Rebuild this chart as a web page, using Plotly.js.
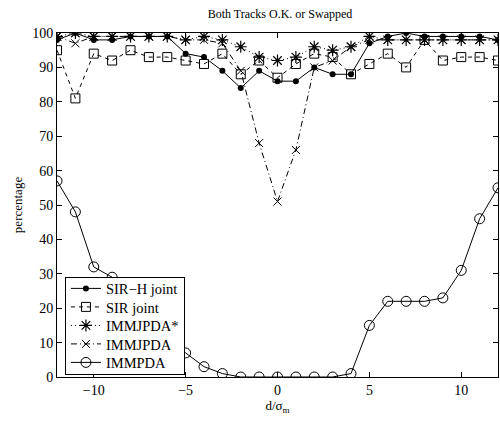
<!DOCTYPE html>
<html>
<head>
<meta charset="utf-8">
<script src="https://cdn.plot.ly/plotly-3.0.1.min.js"></script>
<style>html,body{margin:0;padding:0;background:#fff;}#chart{width:500px;height:421px;}</style>
</head>
<body>
<div id="chart"></div>
<script>
var xVals = [-12,-11,-10,-9,-8,-7,-6,-5,-4,-3,-2,-1,0,1,2,3,4,5,6,7,8,9,10,11,12];
var sirH = [98,100,98,98,99,99,99,94,93,89,84,89,86,86,90,88,88,97,99,100,99,99,99,99,98];
var sirJoint = [95,81,94,92,95,93,93,92,91,94,88,92,87,91,94,93,88,91,94,90,98,92,93,93,92];
var immjpdaStar = [99,100,99,99,99,99,99,98,99,98,96,93,92,93,96,95,96,99,98,98,98,98,98,98,98];
var immjpda = [99,97,99,99,99,99,99,98,98,97,89,68,51,66,90,92,96,98,98,98,98,98,98,98,98];
var immpda = [57,48,32,29,21,15,10,7,3,1,0,0,0,0,0,0,1,15,22,22,22,23,31,46,55];
var seriesNames = ["SIR\u2212H joint","SIR joint","IMMJPDA*","IMMJPDA","IMMPDA"];

var lw = 1;
var traces = [
  {x:xVals, y:sirH, name:seriesNames[0], mode:"lines+markers",
   line:{color:"#000", width:lw, dash:"solid"},
   marker:{symbol:"circle", size:6, color:"#000"}},
  {x:xVals, y:sirJoint, name:seriesNames[1], mode:"lines+markers",
   line:{color:"#000", width:lw, dash:"4px,4px"},
   marker:{symbol:"square-open", size:9, color:"#000", line:{width:1}}},
  {x:xVals, y:immjpdaStar, name:seriesNames[2], mode:"lines+markers",
   line:{color:"#000", width:lw, dash:"1px,3px"},
   marker:{symbol:"asterisk-open", size:10, color:"#000", line:{width:1.2, color:"#000"}}},
  {x:xVals, y:immjpda, name:seriesNames[3], mode:"lines+markers",
   line:{color:"#000", width:lw, dash:"6px,3px,1px,3px"},
   marker:{symbol:"x-thin-open", size:8, color:"#000", line:{width:1, color:"#000"}}},
  {x:xVals, y:immpda, name:seriesNames[4], mode:"lines+markers",
   line:{color:"#000", width:lw, dash:"solid"},
   marker:{symbol:"circle-open", size:10, color:"#000", line:{width:1}}}
];

var fontFam = "Liberation Serif, Times New Roman, serif";
var layout = {
  width:500, height:421,
  margin:{l:57, r:2, t:33, b:44},
  paper_bgcolor:"#fff", plot_bgcolor:"#fff",
  font:{family:fontFam, color:"#000", size:14},
  title:{text:"Both Tracks O.K. or Swapped", font:{family:fontFam, size:12, color:"#000"}, x:0.56, xanchor:"center", y:0.968, yanchor:"middle"},
  xaxis:{range:[-12,12], tickvals:[-10,-5,0,5,10], ticktext:["\u221210","\u22125","0","5","10"],
    ticks:"inside", ticklen:5, tickcolor:"#000", showgrid:false, zeroline:false,
    showline:true, linecolor:"#000", linewidth:1, mirror:"ticks",
    tickfont:{family:fontFam, size:14},
    title:{text:"d/\u03c3<sub>m</sub>", font:{family:fontFam, size:13}, standoff:2}},
  yaxis:{range:[0,100], tickvals:[0,10,20,30,40,50,60,70,80,90,100],
    ticks:"inside", ticklen:5, tickcolor:"#000", showgrid:false, zeroline:false,
    showline:true, linecolor:"#000", linewidth:1, mirror:"ticks",
    tickfont:{family:fontFam, size:14},
    title:{text:"percentage", font:{family:fontFam, size:13}, standoff:6}},
  showlegend:true,
  legend:{x:0.018, y:0.291, xanchor:"left", yanchor:"top", bgcolor:"#fff",
    bordercolor:"#000", borderwidth:1, font:{family:fontFam, size:14.5},
    itemwidth:30, tracegroupgap:0}
};
Plotly.newPlot("chart", traces, layout, {displayModeBar:false, staticPlot:true}).then(function(gd){
  // compact the legend rows to match the reference's tighter spacing
  var lg = gd.querySelector('.legend');
  if (!lg) return;
  var items = lg.querySelectorAll('.traces');
  var rowH = 18.5, firstY = 11.5;
  for (var i = 0; i < items.length; i++) {
    var t = items[i].getAttribute('transform') || '';
    var m = /translate\(\s*([-\d.]+)[ ,]+([-\d.]+)\s*\)/.exec(t);
    var x0 = m ? parseFloat(m[1]) : 0;
    items[i].setAttribute('transform', 'translate(' + x0 + ',' + (firstY + i * rowH) + ')');
  }
  var bg = lg.querySelector('rect.bg');
  if (bg) bg.setAttribute('height', firstY * 2 + (items.length - 1) * rowH);
});
</script>
</body>
</html>
